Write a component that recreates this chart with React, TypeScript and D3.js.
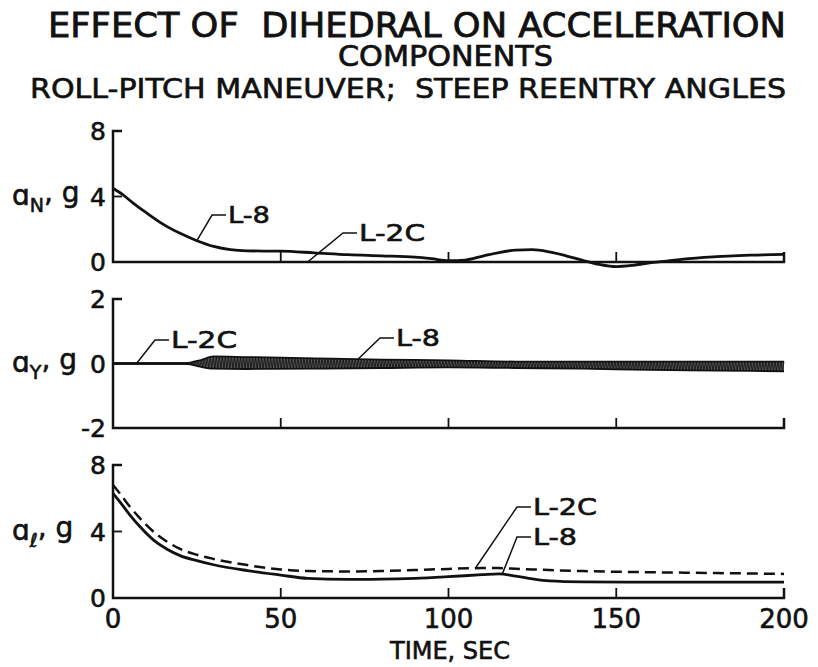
import React from "react";
import * as d3 from "d3";

// ---------- data ----------
const timeTicks = [0, 50, 100, 150, 200];

// Panel 1: normal acceleration a_N (g)
const anTime = [0, 3, 6, 10, 15, 20, 25, 30, 35, 40, 50, 60, 70, 80, 90, 95, 100, 105, 110, 115, 120, 125, 130, 135, 140, 145, 150, 155, 160, 165, 170, 180, 190, 200];
const anL8 = [4.5, 4.1, 3.6, 3.0, 2.3, 1.75, 1.3, 0.95, 0.75, 0.68, 0.66, 0.56, 0.45, 0.38, 0.3, 0.2, 0.08, 0.12, 0.35, 0.58, 0.72, 0.75, 0.62, 0.38, 0.1, -0.15, -0.28, -0.2, -0.05, 0.05, 0.18, 0.33, 0.42, 0.46];
const anL2CTime = [0, 50, 100, 150, 200];
const anL2C = [0, 0, 0, 0, 0];
const anTicks = [0, 4, 8];

// Panel 2: side acceleration a_Y (g)
const ayL2CTime = [0, 200];
const ayL2C = [0, 0];
const ayL8Time = [0, 20, 23, 26, 30, 40, 60, 80, 100, 120, 140, 160, 180, 200];
const ayL8Upper = [0, 0, 0.03, 0.1, 0.22, 0.2, 0.16, 0.12, 0.1, 0.06, 0.06, 0.06, 0.06, 0.06];
const ayL8Lower = [0, 0, -0.03, -0.1, -0.16, -0.17, -0.16, -0.14, -0.12, -0.14, -0.16, -0.2, -0.22, -0.24];
const ayTicks = [-2, 0, 2];

// Panel 3: longitudinal acceleration a_l (g)
const alTime = [0, 2, 5, 8, 12, 16, 20, 25, 30, 40, 50, 58, 70, 80, 90, 100, 110, 115, 120, 125, 130, 140, 160, 180, 200];
const alL8 = [6.3, 5.8, 5.0, 4.3, 3.5, 2.95, 2.55, 2.25, 2.0, 1.65, 1.38, 1.18, 1.12, 1.13, 1.18, 1.28, 1.4, 1.45, 1.32, 1.15, 1.03, 0.97, 0.95, 0.95, 0.95];
const alL2C = [6.8, 6.3, 5.5, 4.8, 4.0, 3.4, 2.95, 2.6, 2.35, 1.98, 1.72, 1.62, 1.6, 1.62, 1.68, 1.75, 1.8, 1.8, 1.76, 1.72, 1.68, 1.62, 1.55, 1.5, 1.45];
const alTicks = [0, 4, 8];

// ---------- layout ----------
const W = 818;
const H = 667;
const X0 = 113;
const X1 = 784;
const FONT = "'DejaVu Sans', 'Liberation Sans', sans-serif";
const INK = "#111";

const x = d3.scaleLinear().domain([0, 200]).range([X0, X1]);
const yN = d3.scaleLinear().domain([0, 8]).range([262, 131]);
const yY = d3.scaleLinear().domain([-2, 2]).range([428, 299]);
const yL = d3.scaleLinear().domain([0, 8]).range([598, 465]);

function linePath(ts: number[], vs: number[], y: d3.ScaleLinear<number, number>) {
  const g = d3
    .line<number>()
    .x((_, i) => x(ts[i]))
    .y((v) => y(v))
    .curve(d3.curveMonotoneX);
  return g(vs) || "";
}

function Axes({ y, ticks, label, sub }: { y: d3.ScaleLinear<number, number>; ticks: number[]; label: string; sub: string }) {
  const [lo, hi] = y.domain();
  const yb = y(lo);
  const yt = y(hi);
  const mid = ticks[1];
  return (
    <g>
      <path d={`M${X0 + 9},${yt} H${X0} V${yb} H${X1} V${yb - 10}`} fill="none" stroke={INK} strokeWidth={2.5} />
      {[50, 100, 150].map((t) => (
        <line key={t} x1={x(t)} x2={x(t)} y1={yb} y2={yb - 10} stroke={INK} strokeWidth={1.8} />
      ))}
      <line x1={X0} x2={X0 + 9} y1={y(mid)} y2={y(mid)} stroke={INK} strokeWidth={1.8} />
      {ticks.map((v) => (
        <text key={v} x={X0 - 7} y={y(v)} dy="0.36em" textAnchor="end" fontSize={25} fontFamily={FONT} fill={INK} stroke={INK} strokeWidth={0.6}>
          {v < 0 ? "-" + Math.abs(v) : v}
        </text>
      ))}
      <text x={12} y={y(mid)} dy="0.3em" fontSize={28} fontFamily={FONT} fill={INK} stroke={INK} strokeWidth={0.6}>
        {label}
        <tspan fontSize={19} dy="0.35em" fontStyle={sub === "ℓ" ? "italic" : "normal"}>{sub}</tspan>
        <tspan dy="-0.35em">, g</tspan>
      </text>
    </g>
  );
}

function Leader({ x1, y1, ex, ey, text, tl }: { x1: number; y1: number; ex: number; ey: number; text: string; tl: number }) {
  return (
    <g>
      <path d={`M${x1},${y1} L${ex},${ey} H${ex + 14}`} fill="none" stroke={INK} strokeWidth={1.5} />
      <text x={ex + 16} y={ey} dy="0.36em" fontSize={23} fontFamily={FONT} fill={INK} stroke={INK} strokeWidth={0.6} textLength={tl} lengthAdjust="spacingAndGlyphs">
        {text}
      </text>
    </g>
  );
}

export default function App() {
  // zigzag for L-8 oscillation band in a_Y
  const upS = d3.scaleLinear().domain(ayL8Time).range(ayL8Upper);
  const loS = d3.scaleLinear().domain(ayL8Time).range(ayL8Lower);
  const zz: [number, number][] = [];
  let k = 0;
  for (let t = 20; t <= 200; t += 0.45, k++) {
    zz.push([x(t), yY(k % 2 === 0 ? upS(t) : loS(t))]);
  }
  const zzPath = d3.line()(zz) || "";
  const bandArea =
    d3
      .area<number>()
      .x((t) => x(t))
      .y0((_, i) => yY(ayL8Lower[i]))
      .y1((_, i) => yY(ayL8Upper[i]))
      .curve(d3.curveMonotoneX)(ayL8Time) || "";

  const anInterp = d3.scaleLinear().domain(anTime).range(anL8);
  const alL8I = d3.scaleLinear().domain(alTime).range(alL8);
  const alL2CI = d3.scaleLinear().domain(alTime).range(alL2C);

  const pre = { whiteSpace: "pre" as const };

  return (
    <div style={{ position: "absolute", left: 0, top: 0 }}>
      <svg width={W} height={H} viewBox={`0 0 ${W} ${H}`} style={{ display: "block", background: "#fff" }}>
        {/* titles */}
        <text x={48} y={37} fontSize={33} fontFamily={FONT} fill={INK} stroke={INK} strokeWidth={0.8} textLength={738} lengthAdjust="spacingAndGlyphs" style={pre}>
          EFFECT OF  DIHEDRAL ON ACCELERATION
        </text>
        <text x={338} y={66} fontSize={28} fontFamily={FONT} fill={INK} stroke={INK} strokeWidth={0.7} textLength={215} lengthAdjust="spacingAndGlyphs">
          COMPONENTS
        </text>
        <text x={30} y={98} fontSize={26} fontFamily={FONT} fill={INK} stroke={INK} strokeWidth={0.6} textLength={756} lengthAdjust="spacingAndGlyphs" style={pre}>
          ROLL-PITCH MANEUVER;  STEEP REENTRY ANGLES
        </text>

        {/* panel 1 */}
        <Axes y={yN} ticks={anTicks} label="ɑ" sub="N" />
        <path d={linePath(anL2CTime, anL2C, yN)} fill="none" stroke={INK} strokeWidth={2} />
        <path d={linePath(anTime, anL8, yN)} fill="none" stroke={INK} strokeWidth={2.8} />
        <Leader x1={x(25)} y1={yN(anInterp(25))} ex={212} ey={215} text="L-8" tl={42} />
        <Leader x1={x(58)} y1={yN(0)} ex={343} ey={233} text="L-2C" tl={66} />

        {/* panel 2 */}
        <Axes y={yY} ticks={ayTicks} label="ɑ" sub="Y" />
        <path d={linePath(ayL2CTime, ayL2C, yY)} fill="none" stroke={INK} strokeWidth={2.5} />
        <path d={bandArea} fill="#555" stroke="none" />
        <path d={zzPath} fill="none" stroke={INK} strokeWidth={0.8} />
        <path d={linePath(ayL8Time, ayL8Upper, yY)} fill="none" stroke={INK} strokeWidth={1.8} />
        <path d={linePath(ayL8Time, ayL8Lower, yY)} fill="none" stroke={INK} strokeWidth={1.8} />
        <Leader x1={x(7)} y1={yY(0)} ex={155} ey={340} text="L-2C" tl={66} />
        <Leader x1={x(73)} y1={yY(upS(73))} ex={380} ey={338} text="L-8" tl={44} />

        {/* panel 3 */}
        <Axes y={yL} ticks={alTicks} label="ɑ" sub="ℓ" />
        <path d={linePath(alTime, alL2C, yL)} fill="none" stroke={INK} strokeWidth={2.5} strokeDasharray="11,6" />
        <path d={linePath(alTime, alL8, yL)} fill="none" stroke={INK} strokeWidth={2.8} />
        <Leader x1={x(108)} y1={yL(alL2CI(108))} ex={517} ey={507} text="L-2C" tl={64} />
        <Leader x1={x(116)} y1={yL(alL8I(116))} ex={517} ey={537} text="L-8" tl={44} />

        {/* x tick labels */}
        {timeTicks.map((t) => (
          <text key={t} x={x(t)} y={628} textAnchor="middle" fontSize={26} fontFamily={FONT} fill={INK} stroke={INK} strokeWidth={0.6}>
            {t}
          </text>
        ))}
        <text x={450} y={659} textAnchor="middle" fontSize={24} fontFamily={FONT} fill={INK} stroke={INK} strokeWidth={0.6}>
          TIME, SEC
        </text>
      </svg>
    </div>
  );
}
